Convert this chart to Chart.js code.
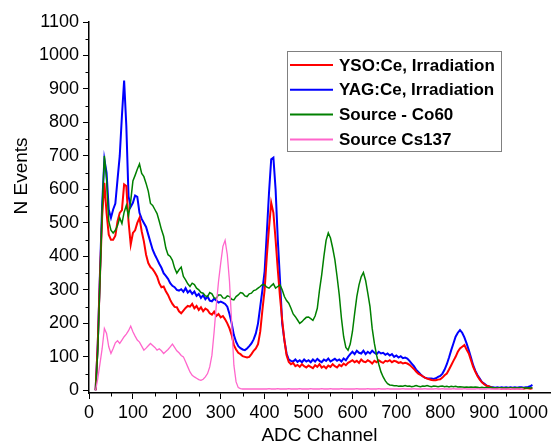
<!DOCTYPE html>
<html>
<head>
<meta charset="utf-8">
<script src="https://cdn.jsdelivr.net/npm/chart.js"></script>
<style>
  html, body { margin: 0; padding: 0; background: #fff; }
  #wrap { width: 552px; height: 447px; }
</style>
</head>
<body>
<div id="wrap"><canvas id="myChart" width="552" height="447"></canvas></div>
<script>
var FONT = '"Liberation Sans", Arial, sans-serif';

// ADC channel grid, every 5 channels from 0 to 1010
var channels = [];
for (var c = 0; c <= 1010; c += 5) channels.push(c);

var xTicks = [0, 100, 200, 300, 400, 500, 600, 700, 800, 900, 1000];
var yTicks = [0, 100, 200, 300, 400, 500, 600, 700, 800, 900, 1000, 1100];

var ysoCe = [
  null,null,null,0,140,340,520,620,530,465,450,450,462,505,530,538,615,610,505,435,
  470,478,500,515,475,445,405,380,368,362,352,340,320,308,310,296,285,270,258,249,
  248,236,230,238,246,252,250,258,245,252,240,248,236,244,240,230,226,235,222,228,
  218,222,212,200,185,165,135,122,112,108,102,100,98,100,108,118,125,138,175,240,
  300,400,485,560,530,450,360,280,210,150,105,85,78,82,72,76,70,78,72,68,
  74,70,66,75,70,78,68,72,66,74,70,78,72,68,76,72,80,75,82,86,
  90,84,88,82,92,86,84,90,86,80,88,84,90,85,82,88,86,90,84,88,
  86,82,84,80,82,80,76,70,64,56,50,46,42,38,35,33,31,30,30,32,
  33,38,45,50,62,75,88,100,115,125,130,135,122,110,90,70,55,42,32,24,
  18,14,12,9,7,6,6,6,5,6,5,6,5,6,5,6,5,6,5,6,
  6,5,6
];

var yagCe = [
  null,null,null,0,140,350,555,690,650,540,515,540,558,630,700,820,925,790,580,548,
  560,582,578,530,512,500,488,465,442,420,405,392,378,366,350,342,333,320,312,308,
  300,298,302,294,305,292,298,288,295,282,288,276,284,272,280,268,266,274,268,262,
  265,262,258,250,228,200,165,145,132,126,122,120,125,132,140,152,170,200,250,300,
  355,470,590,690,695,600,450,330,200,150,110,92,88,86,92,85,90,84,92,86,
  90,84,92,86,94,88,84,92,88,95,86,90,94,88,92,86,95,90,100,108,
  115,108,118,112,110,118,108,115,110,118,112,108,115,110,112,106,110,104,108,100,
  104,98,102,96,98,95,88,80,72,62,55,48,42,38,36,35,35,34,36,40,
  43,50,62,78,98,120,140,160,172,180,172,158,140,120,98,75,58,45,35,25,
  20,15,12,10,9,8,9,8,9,8,9,8,9,8,9,8,9,9,8,9,
  10,12,16
];

var co60 = [
  null,null,null,0,120,330,540,700,630,505,478,470,478,492,515,498,532,552,520,565,
  625,642,660,676,648,638,618,595,558,552,540,528,505,480,460,425,405,400,388,365,
  350,360,368,340,330,318,310,320,316,305,300,292,290,282,280,292,288,276,275,285,
  285,276,275,282,280,272,270,280,285,292,290,282,280,288,290,298,300,305,310,316,
  315,308,305,312,318,305,310,315,300,280,268,260,245,228,220,210,200,205,212,218,
  219,214,209,222,245,299,345,400,448,470,455,425,390,340,285,215,160,128,120,138,
  175,229,280,315,339,352,328,290,250,185,140,105,78,55,40,28,20,16,15,14,
  14,12,13,12,14,12,13,11,12,14,12,11,13,12,14,12,11,13,12,11,
  12,13,11,12,10,12,11,12,10,11,10,9,10,9,10,9,10,9,8,9,
  8,9,8,9,8,8,7,8,8,7,8,7,8,7,8,7,8,7,8,7,
  8,7,8
];

var cs137 = [
  null,null,null,0,35,80,125,185,170,130,110,125,142,148,140,150,160,168,178,192,
  175,162,150,144,132,120,126,133,140,134,128,120,124,118,110,116,122,130,138,128,
  118,112,104,100,85,70,55,45,40,36,32,30,33,40,50,70,105,175,255,325,
  380,430,448,405,325,200,75,25,8,5,4,4,4,4,4,4,4,4,4,4,
  4,4,5,4,4,4,5,4,4,4,4,5,4,4,4,4,5,4,4,4,
  4,5,4,4,4,4,5,4,4,4,5,4,4,4,4,5,4,4,4,4,
  4,4,5,4,4,4,4,5,4,4,4,4,5,4,4,4,5,4,4,4,
  4,4,4,5,4,4,4,4,5,4,4,4,4,5,4,4,4,4,5,4,
  4,5,4,4,4,4,5,4,4,4,4,5,4,4,4,4,4,5,4,4,
  4,4,5,4,4,4,4,5,4,4,4,4,5,4,4,4,4,5,4,null,
  null,null,null
];

var names = ['YSO:Ce, Irradiation', 'YAG:Ce, Irradiation', 'Source - Co60', 'Source Cs137'];
var colors = ['#ff0000', '#0000ff', '#008000', '#ff66cc'];

function pts(arr) {
  return channels.map(function (ch, i) { return { x: ch, y: arr[i] }; });
}

function fixedTicks(list) {
  return function (scale) {
    scale.ticks = list.map(function (v) { return { value: v }; });
  };
}

// minor ticks, rotated y title and the boxed legend
var extras = {
  id: 'extras',
  afterDraw: function (chart) {
    var ctx = chart.ctx;
    var xs = chart.scales.x, ys = chart.scales.y;
    ctx.save();
    ctx.strokeStyle = '#000';
    ctx.lineWidth = 1;
    for (var v = 50; v < 1050; v += 100) {
      var px = Math.round(xs.getPixelForValue(v)) + 0.5;
      ctx.beginPath(); ctx.moveTo(px, ys.bottom); ctx.lineTo(px, ys.bottom + 3.5); ctx.stroke();
    }
    for (var w = 50; w < 1100; w += 100) {
      var py = Math.round(ys.getPixelForValue(w)) + 0.5;
      ctx.beginPath(); ctx.moveTo(xs.left, py); ctx.lineTo(xs.left - 3.5, py); ctx.stroke();
    }

    ctx.save();
    ctx.translate(22, 176);
    ctx.rotate(-Math.PI / 2);
    ctx.fillStyle = '#000';
    ctx.font = '19px ' + FONT;
    ctx.textAlign = 'center';
    ctx.textBaseline = 'middle';
    ctx.fillText('N Events', 0, 0);
    ctx.restore();

    ctx.strokeStyle = '#808080';
    ctx.lineWidth = 1;
    ctx.strokeRect(287.5, 51.5, 214, 100);
    ctx.font = 'bold 17px ' + FONT;
    ctx.textBaseline = 'middle';
    ctx.fillStyle = '#000';
    chart.data.datasets.forEach(function (ds, i) {
      var y = 65 + i * 24.8;
      ctx.strokeStyle = ds.borderColor;
      ctx.lineWidth = 2;
      ctx.beginPath(); ctx.moveTo(290, y); ctx.lineTo(333, y); ctx.stroke();
      ctx.fillText(ds.label, 339, y + 1);
    });
    ctx.restore();
  }
};

var seriesData = [ysoCe, yagCe, co60, cs137];
var widths = [2, 2, 1.5, 1.3];
var orders = [3, 4, 2, 1];

var ctx = document.getElementById('myChart').getContext('2d');
var myChart = new Chart(ctx, {
  type: 'line',
  data: {
    datasets: seriesData.map(function (arr, i) {
      return {
        label: names[i],
        data: pts(arr),
        borderColor: colors[i],
        backgroundColor: colors[i],
        borderWidth: widths[i],
        pointRadius: 0,
        tension: 0,
        fill: false,
        order: orders[i]
      };
    })
  },
  options: {
    responsive: false,
    animation: false,
    devicePixelRatio: 1,
    layout: { padding: { top: 22, right: 2, left: 0, bottom: 0 } },
    plugins: {
      legend: { display: false },
      tooltip: { enabled: false }
    },
    scales: {
      x: {
        type: 'linear',
        min: 0,
        max: 1050,
        afterBuildTicks: fixedTicks(xTicks),
        afterFit: function (scale) { scale.height = 54; },
        border: { color: '#000', width: 1.5 },
        grid: { drawOnChartArea: false, drawTicks: true, tickLength: 6, color: '#000', lineWidth: 1 },
        ticks: {
          autoSkip: false,
          maxRotation: 0,
          padding: 3,
          color: '#000',
          font: { family: FONT, size: 18 },
          callback: function (v) { return String(v); }
        },
        title: {
          display: true,
          text: 'ADC Channel',
          color: '#000',
          font: { family: FONT, size: 19 },
          padding: { top: 0, bottom: 0 }
        }
      },
      y: {
        min: -8,
        max: 1100,
        afterBuildTicks: fixedTicks(yTicks),
        afterFit: function (scale) { scale.width = 89; },
        border: { color: '#000', width: 1.5 },
        grid: { drawOnChartArea: false, drawTicks: true, tickLength: 6, color: '#000', lineWidth: 1 },
        ticks: {
          autoSkip: false,
          padding: 4,
          color: '#000',
          font: { family: FONT, size: 18 },
          callback: function (v) { return String(v); }
        }
      }
    }
  },
  plugins: [extras]
});
</script>
</body>
</html>
